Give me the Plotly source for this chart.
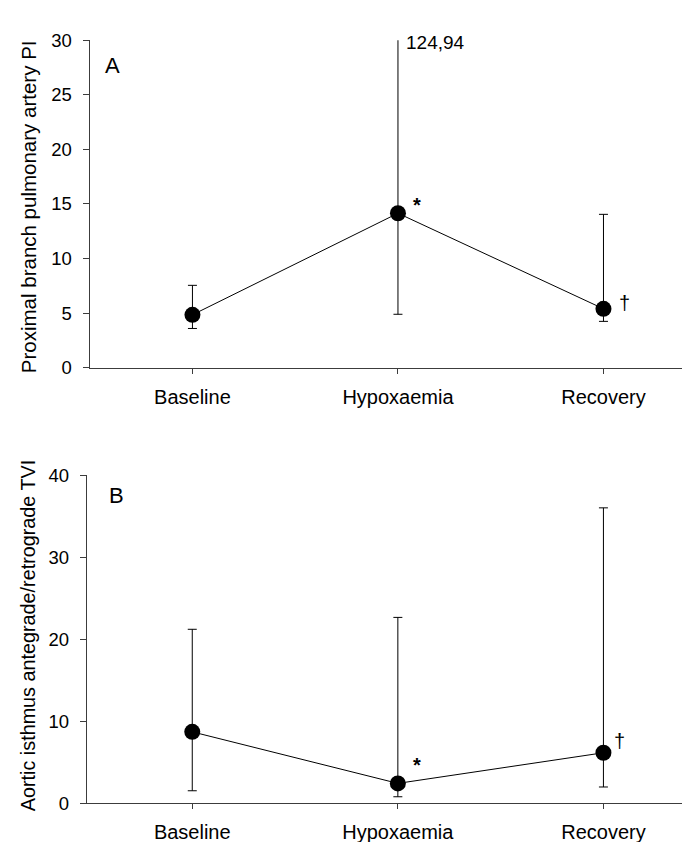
import plotly.graph_objects as go

categories = ["Baseline", "Hypoxaemia", "Recovery"]

# Panel A: proximal branch pulmonary artery PI (median, lower, upper)
pa_pi_median = [4.85, 14.15, 5.4]
pa_pi_low = [3.6, 4.9, 4.25]
pa_pi_high = [7.55, 124.94, 14.05]
pa_ticks = [0, 5, 10, 15, 20, 25, 30]

# Panel B: aortic isthmus antegrade/retrograde TVI
ai_tvi_median = [8.7, 2.42, 6.15]
ai_tvi_low = [1.52, 0.79, 1.98]
ai_tvi_high = [21.2, 22.65, 36.0]
ai_ticks = [0, 10, 20, 30, 40]

FONT = "Liberation Sans, Arial, sans-serif"
AXC = "#3c3c3c"


def trace(med, lo, hi, xa, ya):
    return go.Scatter(
        x=categories, y=med, xaxis=xa, yaxis=ya, mode="lines+markers",
        line=dict(color="black", width=1),
        marker=dict(color="black", size=16, symbol="circle"),
        error_y=dict(type="data", symmetric=False,
                     array=[h - m for h, m in zip(hi, med)],
                     arrayminus=[m - l for m, l in zip(med, lo)],
                     color="black", thickness=1, width=4.5),
        cliponaxis=True, showlegend=False,
    )


fig = go.Figure()
fig.add_trace(trace(pa_pi_median, pa_pi_low, pa_pi_high, "x", "y"))
fig.add_trace(trace(ai_tvi_median, ai_tvi_low, ai_tvi_high, "x2", "y2"))

W, H = 690, 842

xcommon = dict(showline=True, linecolor=AXC, linewidth=1.4, ticks="outside",
               ticklen=5, tickcolor=AXC, tickwidth=1.2, showgrid=False,
               zeroline=False, tickfont=dict(size=20, color="black", family=FONT),
               ticklabelstandoff=6, type="category")
ycommon = dict(showline=True, linecolor=AXC, linewidth=1.4, ticks="outside",
               ticklen=6, tickcolor=AXC, tickwidth=1.2, showgrid=False,
               zeroline=False, tickfont=dict(size=18.5, color="black", family=FONT),
               ticklabelstandoff=7)

fig.update_layout(
    width=W, height=H, margin=dict(l=0, r=0, t=0, b=0),
    paper_bgcolor="white", plot_bgcolor="white", showlegend=False,
    font=dict(family=FONT, color="black"),
    xaxis=dict(domain=[81.7 / W, 1], range=[-0.5, 2.46], anchor="y", **xcommon),
    yaxis=dict(domain=[1 - 357.7 / H, 1 - 21.7 / H], range=[0, 30],
               tickvals=pa_ticks, anchor="x", **ycommon),
    xaxis2=dict(domain=[79 / W, 1], range=[-0.512, 2.46], anchor="y2", **xcommon),
    yaxis2=dict(domain=[1 - 804.3 / H, 1 - 467.7 / H], range=[0, 40],
                tickvals=ai_ticks, anchor="x2", **ycommon),
)

ann = []
# axis titles
ann.append(dict(text="Proximal branch pulmonary artery PI", textangle=-90,
                xref="paper", yref="paper", x=20 / W, y=1 - 193 / H,
                xanchor="center", yanchor="middle", showarrow=False,
                font=dict(size=20.5, family=FONT, color="black")))
ann.append(dict(text="Aortic isthmus antegrade/retrograde TVI", textangle=-90,
                xref="paper", yref="paper", x=20 / W, y=1 - 633 / H,
                xanchor="center", yanchor="middle", showarrow=False,
                font=dict(size=19.8, family=FONT, color="black")))
# panel letters
ann.append(dict(text="A", xref="paper", yref="paper", x=95 / W, y=1 - 48 / H,
                xanchor="left", yanchor="middle", showarrow=False,
                font=dict(size=22, family=FONT, color="black")))
ann.append(dict(text="B", xref="paper", yref="paper", x=99 / W, y=1 - 489 / H,
                xanchor="left", yanchor="middle", showarrow=False,
                font=dict(size=22, family=FONT, color="black")))
# clipped upper value
ann.append(dict(text="124,94", xref="x", yref="y", x=1, y=29.8, xshift=6,
                xanchor="left", yanchor="middle", showarrow=False,
                font=dict(size=19, family=FONT, color="black")))
# significance marks
ann.append(dict(text="<b>*</b>", xref="x", yref="y", x=1.093, y=14.9,
                xanchor="center", yanchor="middle", showarrow=False,
                font=dict(size=20, family=FONT, color="black")))
ann.append(dict(text="†", xref="x", yref="y", x=2.1, y=5.9,
                xanchor="center", yanchor="middle", showarrow=False,
                font=dict(size=20, family=FONT, color="black")))
ann.append(dict(text="<b>*</b>", xref="x2", yref="y2", x=1.093, y=4.6,
                xanchor="center", yanchor="middle", showarrow=False,
                font=dict(size=20, family=FONT, color="black")))
ann.append(dict(text="†", xref="x2", yref="y2", x=2.08, y=7.6,
                xanchor="center", yanchor="middle", showarrow=False,
                font=dict(size=20, family=FONT, color="black")))
fig.update_layout(annotations=ann)

fig.write_html("out.html")
